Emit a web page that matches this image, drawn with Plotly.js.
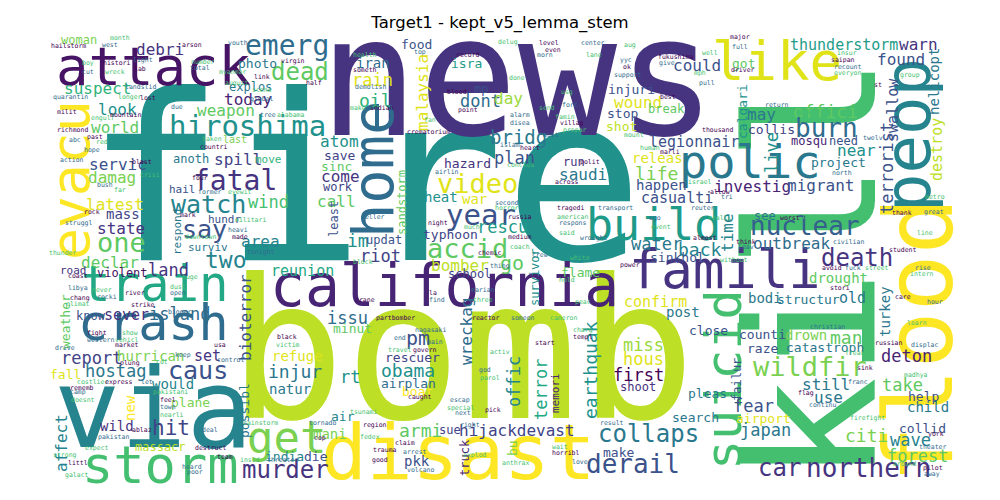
<!DOCTYPE html>
<html>
<head>
<meta charset="utf-8">
<script src="https://cdn.plot.ly/plotly-3.0.1.min.js"></script>
<style>
  html, body { margin: 0; padding: 0; background: #fff; }
  #chart { width: 1000px; height: 500px; }
</style>
</head>
<body>
<div id="chart"></div>
<script>
// viridis stops, index = tone 0..20
const VIRIDIS = ['#440154','#471365','#482475','#463480','#414487','#3b528b','#355f8d','#2f6c8e','#2a788e','#25848e',
                 '#21918c','#1e9c89','#22a884','#2fb47c','#44bf70','#5ec962','#7ad151','#9bd93c','#bddf26','#dfe318','#fde725'];

// big words
const bigWords = ['fire','bomb','news','kill','flood','peop','via','disast','california','famili','suicid',
                  'attack','evacu','home','train','crash','storm','get','polic','build','like'];
const bigX    = [364, 461, 517, 813, 919, 908, 153, 458, 444, 724, 724, 153, 70, 373, 155, 153, 160, 286, 749, 653, 777];
const bigY    = [180, 351, 78, 270, 340, 135, 409, 452, 286, 269, 380, 66, 180, 170, 284, 323, 465, 437, 161, 224, 61];
const bigSize = [232, 194, 165, 178, 95, 64, 110, 76, 58, 53, 50, 54, 53, 57, 49, 50, 52, 44, 47, 45, 54];
const bigRot  = [0,0,0,1,1,1,0,0,0,0,1,0,1,1,0,0,0,0,0,0,0];
const bigTone = [10,18,3,14,20,9,9,20,2,3,14,1,20,7,12,7,14,16,8,11,19];

// medium words
const midWords = [
  'hiroshima','fatal','watch','say','one','dead','emerg','debri','woman','photo',
  'explos','today','suspect','look','weapon','world','last','servic','anoth','spill',
  'move','damag','hail','latest','wind','mass','hundr','state','respond','area',
  'surviv','atom','save','sinc','come','work','call','least','food','iran',
  'rain','oil','malaysia','isra','mp','dont','day','bridg','plan','hazard',
  'run','saudi','video','heat','war','year','rescu','typhoon','sandstorm','im',
  'updat','accid','injuri','wound','stop','shot','break','releas','life','happen',
  'casualti','could','got','thunderstorm','warn','found','helicopt','swallow','offici','may',
  'calgari','burn','collis','legionnair','mosqu','need','near','live','destroy','project',
  'terrorist','investig','migrant','see','nuclear','time','outbreak','water','back','death',
  'sinkhol','drought','confirm','bodi','structur','old','post','turkey','close','counti',
  'drown','man','raze','catastroph','deton','wildfir','failur','still','take','pleas',
  'use','help','fear','child','search','airport','collid','japan','citi','wave',
  'forest','northern','car','collaps','derail','make','miss','hous','first','shoot',
  'earthquak','memori','terror','offic','hijackdevast','bu','truck','sue','armi','pkk',
  'boat','airplan','obama','rescuer','pm','wreckag','riot','bomber','go','survivor',
  'school','flame','reunion','two','land','declar','violent','road','sever','island',
  'know','weather','bioterror','issu','minut','report','hurrican','set','hostag','caus',
  'fall','would','plane','new','possibl','refuge','injur','natur','rt','hit',
  'wild','air','mani','affect','massacr','india','die','murder'];
const midX = [
  247,235,208,204,121,300,287,160,79,257,
  250,248,97,117,226,115,235,118,191,238,
  268,112,182,115,268,123,224,121,177,260,
  208,339,339,336,340,338,336,334,416,373,
  372,375,422,466,481,480,508,518,514,467,
  574,583,477,441,474,481,502,450,402,358,
  384,467,631,638,622,621,666,657,656,661,
  677,697,743,844,918,901,934,893,825,761,
  742,826,771,694,809,843,856,772,937,838,
  887,752,820,765,805,727,791,656,700,857,
  677,838,655,765,808,852,683,885,708,762,
  806,846,762,825,906,810,737,826,902,707,
  828,923,753,928,695,763,922,765,866,910,
  917,868,779,648,633,618,643,643,638,638,
  590,555,541,514,517,512,465,450,420,417,
  417,408,408,412,418,466,380,460,512,535,
  469,580,302,226,168,110,122,73,126,179,
  91,65,245,347,352,91,150,207,115,198,
  65,173,190,130,244,297,295,290,350,171,
  117,343,330,61,160,284,316,285];
const midY = [
  126,180,204,229,242,72,45,49,40,63,
  87,99,88,109,110,127,139,164,159,159,
  159,177,189,204,202,214,219,228,232,241,
  247,141,155,166,176,187,201,219,44,63,
  80,100,93,63,89,101,98,137,158,163,
  162,174,183,197,199,215,227,234,203,240,
  240,248,89,102,113,126,109,158,173,185,
  198,65,63,45,44,59,82,110,111,114,
  112,128,129,142,141,141,150,153,150,162,
  168,186,185,216,226,233,243,244,249,258,
  257,278,302,298,299,298,312,312,330,334,
  335,337,348,347,356,366,380,384,385,393,
  397,396,406,407,417,418,428,430,435,440,
  456,468,468,434,464,452,345,359,375,387,
  370,393,390,382,430,448,458,430,430,461,
  391,383,370,357,338,332,256,265,263,277,
  274,272,271,260,270,262,273,270,315,314,
  316,322,318,318,328,358,356,356,371,370,
  374,384,402,408,411,356,371,389,377,428,
  426,416,434,443,447,456,456,470];
const midSize = [
  29,28,25,25,27,24,28,16,12,13,
  12,16,16,16,16,16,10,16,12,16,
  11,16,11,16,17,14,11,16,11,16,
  11,16,13,13,16,12,16,12,13,14,
  17,18,16,13,12,17,16,19,17,13,
  12,16,27,14,14,29,17,13,12,18,
  12,27,13,16,13,13,12,14,18,14,
  15,16,13,15,16,16,14,15,18,16,
  13,26,13,15,12,12,16,17,15,13,
  17,16,16,12,26,16,16,17,18,24,
  13,14,15,14,13,15,14,14,13,13,
  14,18,13,13,17,27,12,16,17,13,
  16,13,17,14,13,13,13,17,18,17,
  17,26,24,24,26,13,17,17,17,12,
  18,11,17,17,16,13,12,12,18,14,
  13,13,18,13,20,16,17,16,20,12,
  12,13,15,23,17,16,12,11,15,17,
  12,13,16,17,13,17,14,15,17,25,
  13,14,13,14,13,14,18,14,17,21,
  14,13,14,16,12,13,13,24];
const midRot = [
  0,0,0,0,0,0,0,0,0,0,
  0,0,0,0,0,0,0,0,0,0,
  0,0,0,0,0,0,0,0,1,0,
  0,0,0,0,0,0,0,1,0,0,
  0,0,1,0,0,0,0,0,0,0,
  0,0,0,0,0,0,0,0,1,0,
  0,0,0,0,0,0,0,0,0,0,
  0,0,0,0,0,0,1,1,0,0,
  1,0,0,0,0,0,0,1,1,0,
  1,0,0,0,0,1,0,0,0,0,
  0,0,0,0,0,0,0,1,0,0,
  0,0,0,0,0,0,1,0,0,0,
  0,0,0,0,0,0,0,0,0,0,
  0,0,0,0,0,0,0,0,0,0,
  1,1,1,1,0,1,1,0,0,0,
  0,0,0,0,0,1,0,0,0,1,
  0,0,0,0,0,0,0,0,0,0,
  0,1,1,0,0,0,0,0,0,0,
  0,0,0,1,1,0,0,0,0,0,
  0,0,0,1,0,0,0,0];
const midTone = [
  10,3,9,5,15,15,7,3,16,8,
  8,2,13,10,15,15,16,5,8,4,
  13,16,5,19,14,4,5,3,8,9,
  8,10,4,15,3,4,15,5,5,7,
  19,13,19,11,5,7,17,8,5,3,
  3,8,19,10,19,5,11,4,15,10,
  5,15,5,19,5,18,15,19,16,5,
  5,5,15,11,3,5,8,5,15,8,
  10,7,4,5,2,5,10,10,18,8,
  5,2,5,8,6,9,7,8,9,3,
  5,15,19,8,8,8,8,8,5,5,
  16,15,5,8,2,16,5,8,15,8,
  8,5,5,8,8,19,5,8,16,9,
  15,3,3,8,5,5,17,19,0,3,
  10,2,12,9,4,16,2,4,15,5,
  20,7,10,4,5,7,4,18,15,10,
  4,15,12,9,3,15,1,3,3,7,
  5,15,5,7,15,4,16,3,8,5,
  19,9,16,20,8,19,8,8,10,4,
  3,9,16,9,18,9,5,3];

// small filler words
const smallWords = [
  'hailstorm','west','month','arson','youth','boy','histori','light','number','virgin',
  'cut','wreck','lab','total','myanmar','link','landslid','august','half','quarantin',
  'longer','lost','global','scene','milit','due','engulf','mountain','tree','alabama',
  'richmond','abc','red','past','hope','taken','countri','action','crisi','blast',
  'bush','far','four','former','eyewit','rock','struggl','militari','mark','heavi',
  'downtown','made','tonight','health','someth','demolish','make','indian','top','delug',
  'level','center','aug','even','morn','lane','record','yyc','done','ok',
  'support','usg','blood','forc','send','point','alarm','famin','villag','disea',
  'prepar','crematorium','must','mount','heart','islam','fan','polit','airlin','conclus',
  'across','second','horror','tragedi','transport','american','russia','respons','much','night',
  'geller','said','medium','wrought','coach','major','full','well','fukushima','give',
  'mph','driver','pull','insur','saipan','recount','everyon','best','return','govt',
  'thousand','north','israel','allow','tri','realli','worst','ago','event','almost',
  'civilian','typhoondevast','avoid','fuck','street','stori','christian','freak','flag','continu',
  'group','st','twelv','metro','thank','great','line','student','rise','intern',
  'care','hour','learn','russian','displac','madhya','sink','franc','firefight','york',
  'theater','around','pilot','away','thunder','coast','libya','never','chang','rocki',
  'climat','river','open','dust','strike','bigger','huge','fight','western','vehicl',
  'market','drive','show','plung','control','costlier','rememb','camp','doesnt','express',
  'let','pakistani','feel','town','nearli','ablaz','pakistan','expect','destruct','deal',
  'strong','littl','heard','block','chemic','crew','white','power','thing','hold',
  'crane','marian','three','la','find','peac','reactor','someon','cameron','partbomber',
  'nagasaki','charg','templ','end','travel','govern','main','activ','start','god',
  'parol','caught','escap','special','pick','next','tsunami','region','right','fedex',
  'claim','result','wait','trauma','arrest','explod','horribl','love','anthrax','good',
  'volcano','human','marli','reuter','without','think','leav','victim','black','tornado',
  'rainstorm','cop','threaten','insid','team','poor','galact','usa','keep','cdt'];
const smallX = [
  68,110,120,192,238,88,116,143,203,293,
  88,115,140,200,232,262,140,237,314,70,
  130,148,262,262,67,177,103,125,268,290,
  72,75,102,95,92,212,213,72,150,142,
  105,120,200,210,240,92,78,250,188,238,
  200,240,260,365,365,370,358,382,420,508,
  549,593,630,553,545,594,468,626,517,627,
  627,567,457,570,547,468,520,565,572,520,
  575,428,551,634,530,510,430,590,447,520,
  567,507,507,570,615,572,520,572,472,438,
  373,567,520,593,520,740,740,710,675,667,
  700,743,707,847,843,847,847,668,777,807,
  717,842,700,720,727,720,790,655,661,705,
  848,827,832,853,877,840,827,855,806,822,
  910,878,873,935,902,934,925,902,923,922,
  903,935,917,888,924,916,865,858,867,936,
  932,905,933,932,62,78,78,102,80,107,
  78,135,178,178,143,180,190,97,100,127,
  127,65,130,130,230,92,82,78,83,118,
  147,170,168,168,172,142,113,97,210,210,
  65,78,192,363,490,540,580,630,500,567,
  365,483,483,433,437,583,485,523,563,395,
  430,583,583,400,400,425,435,500,545,485,
  490,420,460,460,493,463,363,375,470,370,
  405,612,560,385,415,475,565,580,515,380,
  420,650,670,703,733,746,746,288,287,322,
  260,320,282,250,225,195,77,220,183,162];
const smallY = [
  46,45,38,45,43,63,63,60,62,61,
  72,72,69,68,72,77,87,83,83,97,
  97,98,99,90,112,107,118,115,115,115,
  130,140,142,137,150,139,147,160,175,162,
  185,190,178,192,192,212,223,220,215,230,
  237,237,252,55,70,87,108,108,52,42,
  43,43,45,50,55,55,55,60,78,67,
  75,92,92,105,108,110,115,117,123,123,
  130,132,135,135,148,145,120,162,172,165,
  182,203,208,208,208,217,217,223,227,223,
  217,233,237,238,247,37,47,53,57,63,
  73,70,83,53,60,67,73,97,105,112,
  130,173,182,192,197,218,218,218,227,238,
  242,217,268,268,268,288,327,353,393,405,
  75,85,138,197,213,212,233,250,268,274,
  297,302,323,343,345,375,368,382,418,434,
  447,464,468,474,253,276,288,290,298,297,
  304,293,293,287,305,312,277,333,340,340,
  345,348,333,363,360,382,388,392,400,382,
  382,392,400,407,415,430,437,448,448,430,
  455,463,467,262,253,255,258,265,266,280,
  300,290,300,293,300,302,318,318,318,318,
  330,330,337,338,350,350,342,352,343,370,
  378,397,400,408,410,413,412,425,425,437,
  443,423,447,450,452,455,453,462,463,460,
  470,148,152,208,260,242,247,345,337,423,
  423,438,460,460,457,472,475,345,355,362];
const smallSize = 6.5;

function buildNotes(words, xs, ys, sizes, rots, tones) {
  return words.map((w, i) => ({
    text: w,
    x: xs[i], y: ys[i], xref: 'x', yref: 'y',
    showarrow: false,
    xanchor: 'center', yanchor: 'middle',
    textangle: rots && rots[i] ? -90 : 0,
    font: {
      family: 'DejaVu Sans Mono',
      size: Array.isArray(sizes) ? sizes[i] : sizes,
      color: VIRIDIS[tones ? tones[i] : (i * 7) % 21]
    }
  }));
}

// big words first so the smaller ones sit on top of them, as in the cloud
const annotations = [
  ...buildNotes(bigWords, bigX, bigY, bigSize, bigRot, bigTone),
  ...buildNotes(midWords, midX, midY, midSize, midRot, midTone),
  ...buildNotes(smallWords, smallX, smallY, smallSize, null, null)
];

const layout = {
  width: 1000, height: 500,
  paper_bgcolor: '#fff', plot_bgcolor: '#fff',
  margin: { t: 0, b: 0, l: 0, r: 0 },
  showlegend: false,
  title: {
    text: 'Target1 - kept_v5_lemma_stem',
    x: 0.5, xref: 'paper', y: 0.956, yref: 'container', yanchor: 'middle',
    font: { family: 'DejaVu Sans', size: 16.5, color: '#000' }
  },
  xaxis: { range: [0, 1000], visible: false, fixedrange: true },
  yaxis: { range: [500, 0], visible: false, fixedrange: true },
  annotations: annotations
};

Plotly.newPlot('chart', [{ x: [], y: [], type: 'scatter', mode: 'markers' }], layout,
  { displayModeBar: false, staticPlot: true });
</script>
</body>
</html>
